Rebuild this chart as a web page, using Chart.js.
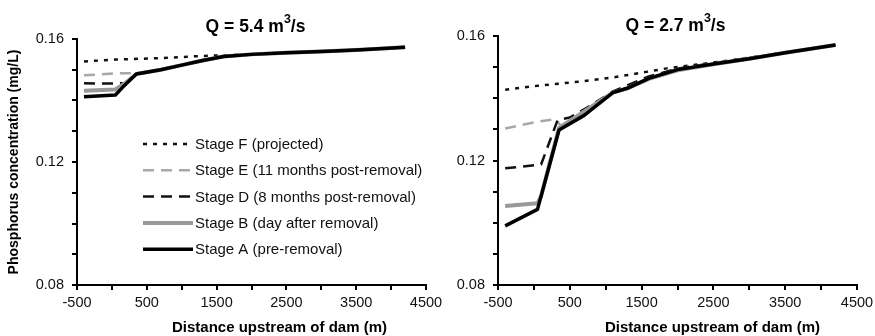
<!DOCTYPE html>
<html>
<head>
<meta charset="utf-8">
<script src="https://cdn.jsdelivr.net/npm/chart.js@4.4.1/dist/chart.umd.min.js"></script>
<style>
  html, body { margin: 0; padding: 0; background: #fff; width: 875px; height: 336px; overflow: hidden; }
  canvas { position: absolute; top: 0; }
  #c1 { left: 0; }
  #c2 { left: 437px; }
</style>
</head>
<body>
<canvas id="c1" width="452" height="336"></canvas>
<canvas id="c2" width="438" height="336"></canvas>
<script>
// ---------- DATA ----------
const seriesNames = [
  'Stage F (projected)',
  'Stage E (11 months post-removal)',
  'Stage D (8 months post-removal)',
  'Stage B (day after removal)',
  'Stage A (pre-removal)'
];
const xTickLabels = ['-500', '500', '1500', '2500', '3500', '4500'];
const yTickLabels = ['0.08', '0.12', '0.16'];
const flowRates = ['5.4', '2.7'];
const xAxisTitle = 'Distance upstream of dam (m)';
const yAxisTitle = 'Phosphorus concentration (mg/L)';

// Q = 5.4 m3/s
const q54_F_x = [-400, 50, 700, 1300, 1600, 2000, 2500, 3000, 3500, 4200];
const q54_F_y = [0.1527, 0.1533, 0.1538, 0.1545, 0.1547, 0.1550, 0.1555, 0.1559, 0.1564, 0.1573];
const q54_E_x = [-400, 50, 350, 700, 1000, 1300, 1600, 2000, 2500, 3000, 3500, 4200];
const q54_E_y = [0.1482, 0.1488, 0.1489, 0.1500, 0.1515, 0.1530, 0.1543, 0.1550, 0.1555, 0.1559, 0.1564, 0.1573];
const q54_D_x = [-400, 50, 200, 350, 700, 1000, 1300, 1600, 2000, 2500, 3000, 3500, 4200];
const q54_D_y = [0.1456, 0.1455, 0.1457, 0.1486, 0.1500, 0.1515, 0.1530, 0.1543, 0.1550, 0.1555, 0.1559, 0.1564, 0.1573];
const q54_B_x = [-400, 50, 200, 350, 700, 1000, 1300, 1600, 2000, 2500, 3000, 3500, 4200];
const q54_B_y = [0.1432, 0.1436, 0.1458, 0.1486, 0.1500, 0.1515, 0.1530, 0.1543, 0.1550, 0.1555, 0.1559, 0.1564, 0.1573];
const q54_A_x = [-400, 50, 150, 350, 700, 1000, 1300, 1600, 2000, 2500, 3000, 3500, 4200];
const q54_A_y = [0.1412, 0.1418, 0.1442, 0.1486, 0.1500, 0.1515, 0.1530, 0.1543, 0.1550, 0.1555, 0.1559, 0.1564, 0.1573];

// Q = 2.7 m3/s
const q27_F_x = [-400, 50, 700, 1100, 1500, 1850, 2400, 3000, 3500, 4200];
const q27_F_y = [0.1427, 0.1440, 0.1455, 0.1467, 0.1482, 0.1496, 0.1512, 0.1530, 0.1547, 0.1571];
const q27_E_x = [-400, 50, 300, 380, 700, 1100, 1300, 1600, 2000, 2500, 3000, 3500, 4200];
const q27_E_y = [0.1303, 0.1325, 0.1333, 0.1310, 0.1355, 0.1418, 0.1432, 0.1464, 0.1492, 0.1510, 0.1527, 0.1546, 0.1571];
const q27_D_x = [-400, 100, 330, 500, 800, 1100, 1600, 2000, 2500, 3000, 3500, 4200];
const q27_D_y = [0.1175, 0.1187, 0.1330, 0.1338, 0.1378, 0.1422, 0.1470, 0.1495, 0.1513, 0.1530, 0.1547, 0.1571];
const q27_B_x = [-400, 50, 100, 350, 700, 1100, 1300, 1600, 2000, 2500, 3000, 3500, 4200];
const q27_B_y = [0.1054, 0.1063, 0.1085, 0.1305, 0.1358, 0.1418, 0.1432, 0.1462, 0.1490, 0.1509, 0.1527, 0.1546, 0.1571];
const q27_A_x = [-400, 50, 350, 700, 1100, 1300, 1600, 2000, 2500, 3000, 3500, 4200];
const q27_A_y = [0.0990, 0.1043, 0.1298, 0.1345, 0.1418, 0.1432, 0.1464, 0.1492, 0.1510, 0.1527, 0.1546, 0.1571];

// ---------- STYLES ----------
const FONT = "'Liberation Sans', Arial, Helvetica, sans-serif";
Chart.defaults.font.family = FONT;
Chart.defaults.color = '#000';

const styles = [
  { borderColor: '#111', borderWidth: 2.5, borderDash: [4, 6], order: 4 },
  { borderColor: '#a8a8a8', borderWidth: 2.5, borderDash: [11, 7], order: 3 },
  { borderColor: '#111', borderWidth: 2.5, borderDash: [11, 7], order: 2 },
  { borderColor: '#999', borderWidth: 4, borderDash: [], order: 1 },
  { borderColor: '#000', borderWidth: 3.5, borderDash: [], order: 0 }
];

function pts(xs, ys) { return xs.map((x, i) => ({ x: x, y: ys[i] })); }

function makeDatasets(list) {
  return list.map((s, i) => Object.assign({
    label: seriesNames[i],
    data: pts(s[0], s[1]),
    pointRadius: 0,
    tension: 0,
    fill: false,
    borderCapStyle: 'butt',
    borderJoinStyle: 'round'
  }, styles[i]));
}

const inlineLegend = {
  id: 'inlineLegend',
  afterDraw(chart) {
    const ctx = chart.ctx;
    const x0 = 143, x1 = 193, tx = 195;
    const rows = [144, 170.3, 196.6, 222.9, 249.2];
    ctx.save();
    chart.data.datasets.forEach((ds, i) => {
      const y = rows[i];
      ctx.beginPath();
      ctx.strokeStyle = ds.borderColor;
      ctx.lineWidth = ds.borderWidth;
      ctx.setLineDash(ds.borderDash || []);
      ctx.lineCap = 'butt';
      ctx.moveTo(x0, y);
      ctx.lineTo(x1, y);
      ctx.stroke();
      ctx.setLineDash([]);
      ctx.fillStyle = '#111';
      ctx.font = '15px ' + FONT;
      ctx.textBaseline = 'middle';
      ctx.textAlign = 'left';
      ctx.fillText(ds.label, tx, y + 1);
    });
    ctx.restore();
  }
};

// Title "Q = x m^3/s" with a real superscript, plus the x-axis title
const supTitle = {
  id: 'supTitle',
  afterDraw(chart, args, opts) {
    const ctx = chart.ctx;
    const a = chart.chartArea;
    const main = 'Q = ' + opts.q + ' m';
    const sup = '3';
    const tail = '/s';
    ctx.save();
    ctx.fillStyle = '#000';
    ctx.textBaseline = 'alphabetic';
    ctx.textAlign = 'left';
    const big = 'bold 17.5px ' + FONT;
    const small = 'bold 12.5px ' + FONT;
    ctx.font = big; const w1 = ctx.measureText(main).width; const w3 = ctx.measureText(tail).width;
    ctx.font = small; const w2 = ctx.measureText(sup).width;
    const total = w1 + w2 + w3;
    let x = (a.left + a.right) / 2 + opts.dx - total / 2;
    const y = opts.y;
    ctx.font = big; ctx.fillText(main, x, y); x += w1;
    ctx.font = small; ctx.fillText(sup, x, y - 8.5); x += w2;
    ctx.font = big; ctx.fillText(tail, x, y);

    // x-axis title
    ctx.font = 'bold 15px ' + FONT;
    ctx.textAlign = 'center';
    ctx.textBaseline = 'middle';
    ctx.fillText(xAxisTitle, (a.left + a.right) / 2 + opts.xtDx, 328);
    ctx.restore();
  }
};

function makeOptions(cfg) {
  return {
    responsive: false,
    animation: false,
    devicePixelRatio: 1,
    layout: { padding: { left: 0, right: cfg.padRight, top: cfg.padTop, bottom: 0 } },
    plugins: {
      legend: { display: false },
      tooltip: { enabled: false },
      title: { display: false },
      supTitle: { q: cfg.q, y: cfg.titleY, dx: cfg.titleDx, xtDx: cfg.xtDx }
    },
    scales: {
      x: {
        type: 'linear',
        min: -500, max: 4500,
        afterFit(scale) { scale.height = 51; scale.paddingLeft = 0; scale.paddingRight = 0; },
        ticks: {
          stepSize: 500,
          autoSkip: false,
          maxRotation: 0,
          padding: 4,
          color: '#111',
          font: { size: 14.5, family: FONT },
          callback: (v) => { const s = String(v); return xTickLabels.includes(s) ? s : ''; }
        },
        grid: { drawOnChartArea: false, drawTicks: true, tickLength: 5, color: '#000', lineWidth: 2 },
        border: { display: true, color: '#000', width: 2 },
        title: { display: false }
      },
      y: {
        type: 'linear',
        min: 0.08, max: 0.16,
        afterFit(scale) { scale.width = cfg.yWidth; scale.paddingTop = 0; scale.paddingBottom = 0; },
        ticks: {
          stepSize: 0.01,
          autoSkip: false,
          padding: 8,
          color: '#111',
          font: { size: 14.5, family: FONT },
          callback: (v) => { const s = (Math.round(v * 100) / 100).toFixed(2); return yTickLabels.includes(s) ? s : ''; }
        },
        grid: { drawOnChartArea: false, drawTicks: true, tickLength: 5, color: '#000', lineWidth: 2 },
        border: { display: true, color: '#000', width: 2 },
        title: {
          display: cfg.yTitle,
          text: yAxisTitle,
          color: '#000',
          font: { size: 14, weight: 'bold', family: FONT },
          padding: { top: 6, bottom: 0 }
        }
      }
    }
  };
}

new Chart(document.getElementById('c1'), {
  type: 'line',
  data: {
    datasets: makeDatasets([
      [q54_F_x, q54_F_y], [q54_E_x, q54_E_y], [q54_D_x, q54_D_y], [q54_B_x, q54_B_y], [q54_A_x, q54_A_y]
    ])
  },
  options: makeOptions({ q: flowRates[0], padRight: 26, padTop: 39, titleY: 31.5, titleDx: 4, xtDx: 28, yWidth: 77, yTitle: true }),
  plugins: [inlineLegend, supTitle]
});

new Chart(document.getElementById('c2'), {
  type: 'line',
  data: {
    datasets: makeDatasets([
      [q27_F_x, q27_F_y], [q27_E_x, q27_E_y], [q27_D_x, q27_D_y], [q27_B_x, q27_B_y], [q27_A_x, q27_A_y]
    ])
  },
  options: makeOptions({ q: flowRates[1], padRight: 18, padTop: 36, titleY: 30.5, titleDx: -2, xtDx: 35, yWidth: 61, yTitle: false }),
  plugins: [supTitle]
});
</script>
</body>
</html>
